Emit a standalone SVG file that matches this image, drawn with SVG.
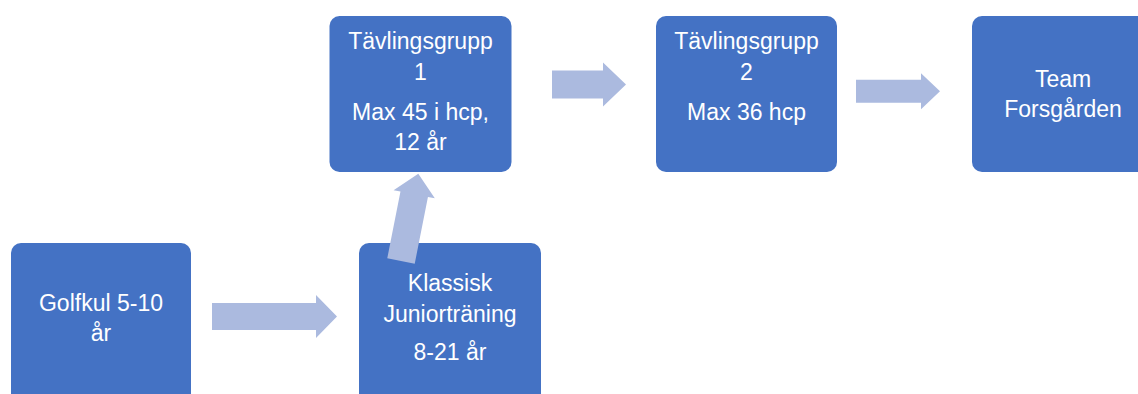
<svg xmlns="http://www.w3.org/2000/svg" width="1138" height="394" viewBox="0 0 1138 394">
<style>
.box{fill:#4472C4;}
.arr{fill:#ABBADF;}
text{font-family:"Liberation Sans",Arial,sans-serif;font-size:23px;fill:#FFFFFF;text-anchor:middle;}
</style>
<rect width="1138" height="394" fill="#FFFFFF"/>
<g id="node-golfkul">
<rect class="box" x="11" y="243" width="180" height="160" rx="10"/>
<text x="101" y="311">Golfkul 5-10</text>
<text x="101" y="341">år</text>
</g>
<g id="node-klassisk">
<rect class="box" x="359" y="243" width="182" height="160" rx="10"/>
<text x="450" y="291">Klassisk</text>
<text x="450" y="322">Juniorträning</text>
<text x="450" y="360">8-21 år</text>
</g>
<g id="node-tavling1">
<rect class="box" x="329.5" y="16" width="182" height="156" rx="10"/>
<text x="420.5" y="49">Tävlingsgrupp</text>
<text x="420.5" y="80">1</text>
<text x="420.5" y="120">Max 45 i hcp,</text>
<text x="420.5" y="150">12 år</text>
</g>
<g id="node-tavling2">
<rect class="box" x="656" y="16" width="181" height="156" rx="10"/>
<text x="746.5" y="49">Tävlingsgrupp</text>
<text x="746.5" y="80">2</text>
<text x="746.5" y="120">Max 36 hcp</text>
</g>
<g id="node-team">
<rect class="box" x="972" y="16" width="182" height="156" rx="10"/>
<text x="1063" y="87">Team</text>
<text x="1063" y="117">Forsgården</text>
</g>
<g id="connectors">
<path class="arr" d="M212 303 L316 303 L316 295 L337 316.6 L316 338 L316 330 L212 330 Z"/>
<path class="arr" transform="translate(401,261) rotate(11.2)" d="M-14 0 L-14 -68 L-21 -68 L0 -89 L21 -68 L14 -68 L14 0 Z"/>
<path class="arr" d="M552 70.5 L603 70.5 L603 62.5 L626 84.5 L603 106.5 L603 98.5 L552 98.5 Z"/>
<path class="arr" d="M856 79.8 L921 79.8 L921 73.3 L940 91.3 L921 109.3 L921 102.8 L856 102.8 Z"/>
</g>
</svg>
